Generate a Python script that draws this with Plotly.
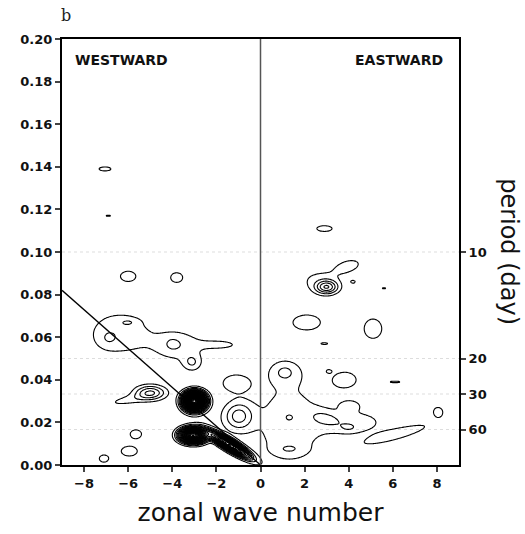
import numpy as np
import plotly.graph_objects as go

# ---- contour features ----
# centre wavenumber, centre frequency (cpd), spread in k, spread in f, peak amplitude, tilt (deg)
blob_k    = [-7.05, -6.9, -6.0, -3.8,
             -6.4, -6.9, -6.0,
             -3.7, -1.8, -4.0, -3.1,
             -3.0, -3.05, -1.4, -2.6,
             -5.0, -6.0,
             -5.65, -5.95, -7.1,
             -1.15, -1.0,
             2.9, 3.0, 2.6, 4.0, 4.2, 5.6, 2.1, 5.1, 2.9,
             1.1, 1.1, 1.3, 2.9, 1.3, 1.3,
             3.85, 6.1, 4.05, 4.3, 4.0, 6.2, 8.05, 3.1]
blob_f    = [0.139, 0.117, 0.0886, 0.088,
             0.062, 0.0595, 0.067,
             0.056, 0.0565, 0.057, 0.048,
             0.0300, 0.0140, 0.0095, 0.020,
             0.034, 0.0305,
             0.0145, 0.0065, 0.003,
             0.0385, 0.0230,
             0.111, 0.0835, 0.087, 0.0935, 0.086, 0.083, 0.067, 0.064, 0.057,
             0.0435, 0.0435, 0.019, 0.022, 0.0224, 0.0075,
             0.040, 0.039, 0.028, 0.020, 0.0174, 0.0145, 0.025, 0.044]
blob_sk   = [0.37, 0.5, 0.38, 0.3,
             1.15, 0.3, 0.3,
             0.85, 0.7, 0.28, 0.3,
             0.30, 0.36, 0.6, 1.0,
             0.48, 0.8,
             0.28, 0.4, 0.25,
             0.55, 0.45,
             0.38, 0.35, 0.8, 0.55, 0.12, 0.35, 0.66, 0.44, 0.25,
             0.5, 0.18, 1.35, 0.5, 0.2, 0.45,
             0.5, 0.45, 0.33, 1.1, 0.3, 1.39, 0.22, 0.1]
blob_sf   = [0.0013, 0.0005, 0.0026, 0.0025,
             0.0085, 0.0028, 0.0012,
             0.0055, 0.0018, 0.0025, 0.0028,
             0.0026, 0.0021, 0.0015, 0.007,
             0.0024, 0.0018,
             0.0022, 0.0025, 0.002,
             0.0036, 0.0045,
             0.0015, 0.0022, 0.0045, 0.0028, 0.0008, 0.0005, 0.0037, 0.005, 0.0007,
             0.004, 0.0014, 0.018, 0.0025, 0.0016, 0.0018,
             0.0035, 0.0007, 0.0018, 0.0045, 0.0015, 0.0022, 0.0022, 0.0007]
blob_amp  = [1.3, 1.1, 1.5, 1.5,
             1.6, 0.8, 0.9,
             1.6, 1.25, 0.7, 1.8,
             40, 30, 24, 0.35,
             4.0, 1.3,
             1.5, 1.5, 1.4,
             1.5, 3.2,
             1.5, 4.5, 1.1, 1.35, 1.15, 1.1, 1.5, 1.5, 1.1,
             1.5, 0.6, 1.45, 1.2, 0.7, 1.0,
             1.5, 1.15, 1.5, 1.4, 0.8, 1.5, 1.5, 1.1]
blob_tilt = [0, 0, 0, 0,
             0, 0, 0,
             0, 0, 0, 0,
             0, 0, -32, -20,
             0, 10,
             0, 0, 0,
             0, 0,
             0, 0, 0, 15, 0, 0, 0, 0, 0,
             0, 0, 0, -15, 0, 0,
             0, 0, 0, 0, 0, 16, 0, 0]

# reference lines
diag_k = [-9.0, 0.0]
diag_f = [0.082, 0.0]
period_days = [10, 20, 30, 60]
y_ticks = [0.00, 0.02, 0.04, 0.06, 0.08, 0.10, 0.12, 0.14, 0.16, 0.18, 0.20]
x_ticks = [-8, -6, -4, -2, 0, 2, 4, 6, 8]

# ---- build the spectral field ----
k = np.linspace(-9, 9, 361)
f = np.linspace(0, 0.2, 501)
K, F = np.meshgrid(k, f)
Z = np.zeros_like(K)
for k0, f0, sk, sf, a, t in zip(blob_k, blob_f, blob_sk, blob_sf, blob_amp, blob_tilt):
    th = np.deg2rad(t)
    u = K - k0
    v = (F - f0) * 100.0
    aa = u * np.cos(th) + v * np.sin(th)
    bb = -u * np.sin(th) + v * np.cos(th)
    Z += a * np.exp(-0.5 * ((aa / sk) ** 2 + (bb / (sf * 100.0)) ** 2))
Z = np.round(Z, 3)

fig = go.Figure()
fig.add_trace(go.Contour(
    x=k, y=f, z=Z,
    contours=dict(start=1, end=5, size=1, coloring="none"),
    line=dict(color="black", width=1.1, smoothing=1),
    showscale=False, hoverinfo="skip",
))
fig.add_trace(go.Contour(
    x=k, y=f, z=Z,
    contours=dict(start=6, end=40, size=1.5, coloring="none"),
    line=dict(color="black", width=1.3, smoothing=1),
    showscale=False, hoverinfo="skip",
))
fig.add_trace(go.Scatter(x=diag_k, y=diag_f, mode="lines",
                         line=dict(color="black", width=1.3),
                         hoverinfo="skip", showlegend=False))
fig.add_trace(go.Scatter(x=[0], y=[0], mode="markers", yaxis="y2",
                         marker=dict(opacity=0), hoverinfo="skip", showlegend=False))

period_f = [1.0 / p for p in period_days]
for pf in period_f:
    fig.add_shape(type="line", xref="paper", x0=0, x1=1, y0=pf, y1=pf, yref="y",
                  line=dict(color="#dddddd", width=1, dash="dot"), layer="below")
fig.add_shape(type="line", x0=0, x1=0, yref="paper", y0=0, y1=1,
              line=dict(color="#555555", width=1.5))

tickfont = dict(family="DejaVu Sans", size=13, color="#111", weight="bold")
fig.update_layout(
    width=525, height=534,
    margin=dict(l=62, r=66, t=39, b=57),
    plot_bgcolor="white", paper_bgcolor="white",
    showlegend=False,
    xaxis=dict(range=[-9, 9], tickvals=x_ticks, ticks="outside", ticklen=5, tickwidth=2,
               showline=True, linewidth=2, linecolor="black", mirror=True,
               showgrid=False, zeroline=False, tickfont=tickfont,
               title=dict(text="zonal wave number", standoff=14,
                          font=dict(family="DejaVu Sans", size=25, color="#111"))),
    yaxis=dict(range=[0, 0.2], tickvals=y_ticks, tickformat=".2f", ticks="outside",
               ticklen=5, tickwidth=2, showline=True, linewidth=2, linecolor="black",
               showgrid=False, zeroline=False, tickfont=tickfont),
    yaxis2=dict(range=[0, 0.2], overlaying="y", side="right", tickvals=period_f,
                ticktext=[str(p) for p in period_days], ticks="outside", ticklen=5,
                tickwidth=2, showline=True, linewidth=2, linecolor="black",
                showgrid=False, zeroline=False, tickfont=tickfont),
    annotations=[
        dict(text="b", xref="paper", yref="paper", x=0.0, y=1.0, yshift=24, xshift=-3,
             showarrow=False, xanchor="left", yanchor="middle",
             font=dict(family="DejaVu Serif", size=16, color="#222")),
        dict(text="WESTWARD", xref="paper", yref="paper", x=0.027, y=0.95,
             showarrow=False, xanchor="left", yanchor="middle",
             font=dict(family="DejaVu Sans", size=14, color="#111", weight="bold")),
        dict(text="EASTWARD", xref="paper", yref="paper", x=0.965, y=0.95,
             showarrow=False, xanchor="right", yanchor="middle",
             font=dict(family="DejaVu Sans", size=14, color="#111", weight="bold")),
        dict(text="period (day)", xref="paper", yref="paper", x=1.0, xshift=50,
             y=0.502, showarrow=False, textangle=90, xanchor="center", yanchor="middle",
             font=dict(family="DejaVu Sans", size=24, color="#111")),
    ],
)

fig.write_html("out.html")
